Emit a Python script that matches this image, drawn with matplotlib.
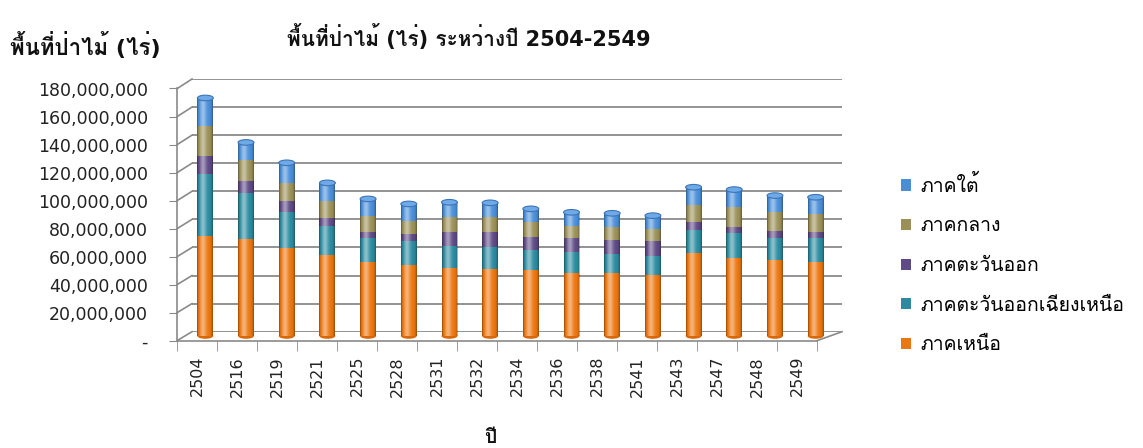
import numpy as np
import matplotlib
matplotlib.use("Agg")
import matplotlib.pyplot as plt
from matplotlib import font_manager, ft2font
from matplotlib.patches import Ellipse, Patch
from matplotlib.lines import Line2D

# forest area (rai) by region
years = ['2504', '2516', '2519', '2521', '2525', '2528', '2531', '2532',
         '2534', '2536', '2538', '2541', '2543', '2547', '2548', '2549']
north = [71.4, 69.6, 62.8, 58.3, 53.2, 51.1, 49.1, 48.0,
         47.2, 45.5, 45.1, 43.9, 59.2, 55.9, 54.5, 53.2]
northeast = [44.9, 33.0, 25.9, 20.3, 17.1, 16.7, 15.1, 15.5,
             14.4, 14.4, 13.7, 13.7, 16.8, 17.7, 15.8, 17.1]
east = [12.7, 8.6, 8.4, 5.8, 4.5, 5.4, 10.1, 10.8,
        9.6, 10.4, 10.0, 10.2, 5.5, 4.8, 5.2, 4.0]
central = [21.6, 14.9, 12.7, 12.7, 11.5, 9.5, 10.8, 10.8,
           10.3, 8.8, 9.1, 8.9, 12.7, 13.9, 13.2, 13.2]
south = [20.1, 12.7, 14.4, 12.7, 12.0, 12.0, 10.8, 10.4,
         9.7, 9.6, 10.1, 9.6, 12.5, 12.7, 12.0, 12.0]

series_names = ['ภาคเหนือ', 'ภาคตะวันออกเฉียงเหนือ', 'ภาคตะวันออก', 'ภาคกลาง', 'ภาคใต้']
colors = ['#EC760F', '#2C8BA0', '#5E4A85', '#9A9058', '#4A8ED8']
yticks = np.arange(0, 180e6 + 1, 20e6)


def thai_font():
    # installed families that have Thai glyphs, preferring one with a bold face
    found = {}
    for f in font_manager.fontManager.ttflist:
        try:
            if ft2font.FT2Font(f.fname).get_char_index(0x0E01):
                found.setdefault(f.name, set()).add(f.weight)
        except Exception:
            pass
    if not found:
        return None
    for name, weights in found.items():
        if any(wt in ('bold', 700) or (isinstance(wt, int) and wt >= 600) for wt in weights):
            return name
    return next(iter(found))


th = thai_font()
plt.rcParams['font.family'] = ['DejaVu Sans'] + ([th] if th else [])

W, H = 1143, 448


def fx(x):
    return x / W


def fy(y):
    return 1 - y / H


fig = plt.figure(figsize=(W / 100, H / 100), dpi=100)

# back wall with gridlines
back = fig.add_axes([fx(192), fy(331.7), 650 / W, (331.7 - 79) / H])
back.set_xlim(0, 1)
back.set_ylim(0, 180e6)
for v in yticks:
    back.axhline(v, color='#8a8a8a', lw=1.3)
back.axis('off')

# front axis: ticks and labels
front = fig.add_axes([fx(177), fy(340.7), 640 / W, (340.7 - 88.5) / H])
front.patch.set_visible(False)
front.set_xlim(-0.5, 15.5)
front.set_ylim(0, 180e6)
for s in ['top', 'right']:
    front.spines[s].set_visible(False)
for s in ['left', 'bottom']:
    front.spines[s].set_color('#8a8a8a')
    front.spines[s].set_linewidth(1.2)
front.set_yticks(yticks)
front.set_yticklabels(['-' if v == 0 else f'{v:,.0f}' for v in yticks])
front.tick_params(axis='y', length=6, color='#8a8a8a', pad=15, labelsize=12.5,
                  labelcolor='#222222')
front.set_xticks(range(len(years)))
front.set_xticklabels(years, rotation=90)
front.set_xticks(np.arange(-0.5, len(years)), minor=True)
front.tick_params(axis='x', which='major', length=0, pad=11, labelsize=11.5,
                  labelcolor='#222222')
front.tick_params(axis='x', which='minor', length=7, color='#8a8a8a')

# slanted lines joining the front ticks to the back wall
for v in yticks:
    yf = 340.7 - v / 20e6 * 28.0
    yb = 331.7 - v / 20e6 * 28.08
    fig.add_artist(Line2D([fx(177), fx(192)], [fy(yf), fy(yb)],
                          transform=fig.transFigure, color='#8a8a8a', lw=1.2))
fig.add_artist(Line2D([fx(817), fx(842)], [fy(340.7), fy(331.7)],
                      transform=fig.transFigure, color='#8a8a8a', lw=1.2))

# bars (cylinders) at mid depth
bars = fig.add_axes([fx(185), fy(336), 651 / W, 251 / H])
bars.patch.set_visible(False)
x = np.arange(len(years))
w = 0.39
data = [np.array(s) * 1e6 for s in [north, northeast, east, central, south]]
bottom = np.zeros(len(years))
for vals, c in zip(data, colors):
    bars.bar(x, vals, w, bottom=bottom, color=c, zorder=2)
    bottom += vals

# cylinder shading
t = np.linspace(0, 1, 64)
v = 0.45 * np.exp(-((t - 0.38) / 0.2) ** 2) - 0.4 * (2 * t - 1) ** 6
shade = np.zeros((1, 64, 4))
shade[0, v > 0, :3] = 1.0
shade[0, :, 3] = np.abs(v)
eh = 4.0e6
for xi, top in zip(x, bottom):
    bars.imshow(shade, extent=(xi - w / 2, xi + w / 2, 0, top), aspect='auto',
                zorder=3, interpolation='bilinear')
    bars.add_patch(Ellipse((xi, top), w, eh, facecolor='#6FAAE8',
                           edgecolor='#3C74B8', lw=0.8, zorder=4))
    bars.add_patch(Ellipse((xi, 0), w, eh, facecolor='#D9680A',
                           edgecolor='none', zorder=1, clip_on=False))
bars.set_xlim(-0.5, 15.5)
bars.set_ylim(0, 180e6)
bars.axis('off')

# texts
fig.text(fx(469), fy(37), 'พื้นที่ป่าไม้ (ไร่) ระหว่างปี 2504-2549', ha='center',
         va='center', fontsize=15, fontweight='bold', color='#111111')
fig.text(fx(10), fy(45), 'พื้นที่ป่าไม้ (ไร่)', ha='left', va='center',
         fontsize=16, fontweight='bold', color='#111111')
fig.text(fx(490), fy(437), 'ปี', ha='center', va='center', fontsize=14,
         fontweight='bold', color='#111111')

handles = [Patch(facecolor=c) for c in colors][::-1]
fig.legend(handles, series_names[::-1], loc='upper left',
           bbox_to_anchor=(fx(893), fy(167)), frameon=False, fontsize=14,
           handlelength=0.5, handleheight=0.5, handletextpad=0.5,
           labelspacing=1.06, borderaxespad=0)

fig.savefig('out.png', dpi=100)
